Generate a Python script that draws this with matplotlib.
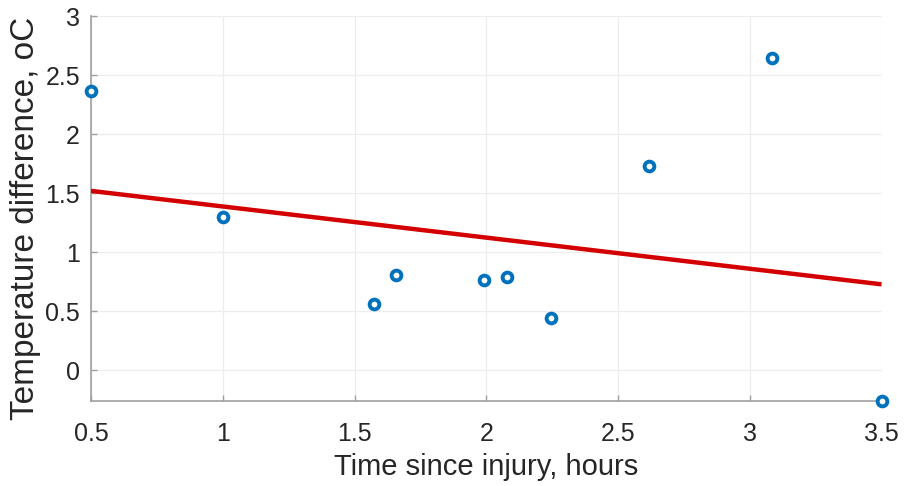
import matplotlib
matplotlib.use("Agg")
import matplotlib.pyplot as plt
import numpy as np
from matplotlib.ticker import FuncFormatter

# measured points (hours since injury, temperature difference)
hours = [0.5, 1.0, 1.573, 1.656, 1.993, 2.077, 2.244, 2.619, 3.086, 3.5]
temp_diff = [2.367, 1.297, 0.562, 0.805, 0.763, 0.794, 0.443, 1.731, 2.641, -0.262]

# fitted trend line endpoints
fit_x = [0.5, 3.5]
fit_y = [1.519, 0.728]

x_ticks = [0.5, 1, 1.5, 2, 2.5, 3, 3.5]
y_ticks = [0, 0.5, 1, 1.5, 2, 2.5, 3]

plt.rcParams["font.family"] = ["Liberation Sans", "DejaVu Sans"]

fig = plt.figure(figsize=(9.05, 4.86), dpi=100)
ax = fig.add_axes([91 / 905, 1 - 401 / 486, (881.5 - 91) / 905, (401 - 16) / 486])

ax.plot(fit_x, fit_y, color="#d40000", lw=3.2, solid_capstyle="butt", zorder=3)
ax.plot(hours, temp_diff, ls="none", marker="o", ms=7, mew=2.8,
        mec="#0072bd", mfc="white", clip_on=False, zorder=4)

ax.set_xlim(0.5, 3.5)
ax.set_ylim(-0.26, 3)
ax.set_xticks(x_ticks)
ax.set_yticks(y_ticks)
fmt = FuncFormatter(lambda v, p: f"{v:g}")
ax.xaxis.set_major_formatter(fmt)
ax.yaxis.set_major_formatter(fmt)

ax.grid(True, color="#ededed", lw=0.9)
ax.set_axisbelow(True)
for side in ["top", "right"]:
    ax.spines[side].set_visible(False)
for side in ["left", "bottom"]:
    ax.spines[side].set_color("#a0a0a0")
    ax.spines[side].set_linewidth(1.2)

ax.tick_params(direction="in", length=4, width=1, color="#a0a0a0",
               labelsize=18, labelcolor="#262626")
ax.tick_params(axis="x", pad=15)
ax.tick_params(axis="y", pad=8)

ax.set_xlabel("Time since injury, hours", fontsize=21, color="#262626", labelpad=5)
ax.set_ylabel("Temperature difference, oC", fontsize=24, color="#262626",
              labelpad=3, y=0.475)

fig.savefig("out.png", dpi=100)
